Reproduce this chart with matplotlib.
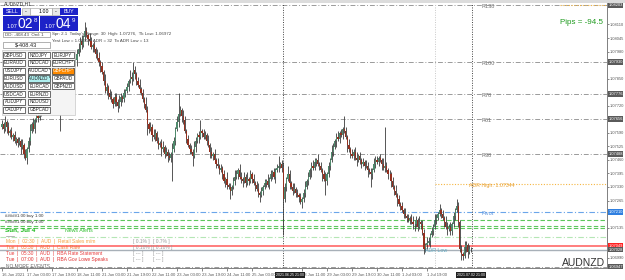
import matplotlib
matplotlib.use('Agg')
import matplotlib.pyplot as plt
from matplotlib.patches import Rectangle
import numpy as np

plt.rcParams['font.family'] = ['Liberation Sans', 'DejaVu Sans']

# AUDNZD H1, 16 Jun 2021 11:00 -> 2 Jul 2021 23:00
# prices kept as pips above 1.07000
base = 1.07
first_open = 62
closes = [
    63, 61, 64, 62, 59, 60, 57, 58, 55, 56,
    54, 55, 52, 53, 49, 47, 51, 55, 60, 63,
    61, 65, 67, 66, 70, 73, 72, 77, 81, 84,
    86, 83, 85, 82, 82, 78, 75, 72, 70, 74,
    77, 76, 80, 84, 86, 89, 92, 94, 97, 99,
    103, 101, 105, 108, 106, 104, 103, 100, 101, 99,
    97, 95, 93, 91, 88, 84, 79, 81, 78, 76,
    75, 73, 76, 74, 72, 74, 76, 75, 78, 79,
    81, 84, 86, 85, 89, 87, 84, 82, 80, 78,
    75, 73, 70, 63, 61, 62, 58, 57, 59, 55,
    53, 54, 51, 52, 49, 50, 48, 47, 49, 51,
    55, 61, 64, 68, 70, 67, 65, 60, 56, 53,
    51, 50, 48, 52, 55, 58, 57, 60, 59, 57,
    58, 55, 53, 50, 48, 49, 46, 44, 43, 41,
    42, 39, 36, 37, 34, 33, 31, 33, 36, 38,
    39, 41, 38, 37, 36, 38, 35, 37, 36, 39,
    37, 35, 34, 32, 30, 29, 31, 33, 35, 36,
    34, 37, 39, 40, 38, 41, 42, 43, 44, 42,
    27, 33, 37, 39, 35, 33, 31, 32, 30, 29,
    28, 26, 27, 30, 33, 36, 38, 41, 43, 42,
    45, 46, 44, 43, 41, 39, 37, 36, 39, 43,
    46, 50, 52, 55, 57, 56, 59, 58, 61, 60,
    57, 53, 51, 49, 48, 50, 47, 46, 48, 46,
    44, 45, 43, 43, 41, 40, 39, 41, 44, 46,
    45, 47, 46, 44, 42, 43, 41, 39, 39, 36,
    33, 31, 29, 27, 25, 24, 22, 20, 19, 18,
    17, 18, 16, 15, 15, 17, 14, 16, 15, 11,
    3, 5, 6, 7, 10, 12, 14, 17, 18, 20,
    22, 20, 18, 16, 14, 13, 14, 12, 15, 19,
    22, 24, 16, 3, 1, 0, 4, 5, 2, 3,
    3]
wick_up = [
    2, 1, 3, 1, 2, 1, 2, 1, 2, 1,
    1, 2, 1, 3, 1, 2, 1, 2, 3, 1,
    3, 1, 2, 1, 2, 1, 3, 2, 1, 2,
    3, 2, 1, 2, 1, 2, 1, 3, 2, 1,
    2, 3, 1, 2, 1, 2, 2, 1, 2, 3,
    2, 3, 1, 4, 2, 1, 3, 2, 1, 2,
    1, 2, 3, 1, 2, 1, 3, 2, 1, 2,
    3, 1, 2, 2, 1, 3, 2, 1, 2, 1,
    2, 1, 3, 2, 4, 2, 1, 2, 3, 1,
    2, 1, 3, 2, 1, 2, 1, 3, 2, 1,
    2, 1, 2, 3, 1, 2, 1, 2, 1, 3,
    2, 1, 3, 10, 2, 1, 3, 2, 1, 2,
    1, 2, 1, 3, 2, 1, 2, 5, 1, 2,
    2, 1, 3, 1, 2, 1, 2, 1, 3, 1,
    2, 1, 2, 1, 3, 1, 2, 1, 2, 3,
    2, 1, 3, 2, 1, 2, 1, 3, 1, 2,
    1, 2, 1, 2, 3, 1, 2, 1, 2, 1,
    3, 1, 2, 1, 2, 1, 2, 5, 1, 2,
    3, 2, 1, 4, 2, 1, 2, 3, 1, 2,
    1, 2, 1, 2, 3, 1, 2, 1, 2, 3,
    2, 1, 3, 1, 2, 1, 2, 3, 1, 2,
    1, 3, 2, 1, 2, 3, 1, 2, 1, 6,
    2, 1, 3, 1, 2, 1, 2, 3, 1, 2,
    1, 2, 1, 3, 2, 1, 2, 1, 3, 2,
    2, 1, 2, 1, 3, 19, 2, 1, 2, 1,
    2, 1, 3, 1, 2, 1, 2, 1, 3, 1,
    2, 1, 2, 3, 1, 2, 1, 3, 1, 2,
    2, 1, 3, 2, 1, 2, 1, 3, 2, 1,
    3, 1, 2, 1, 3, 2, 1, 2, 1, 2,
    1, 3, 2, 1, 2, 1, 3, 2, 1, 2,
    1]
wick_dn = [
    1, 2, 1, 3, 1, 2, 1, 2, 1, 2,
    2, 1, 3, 1, 2, 1, 3, 1, 2, 1,
    1, 2, 1, 2, 1, 3, 1, 2, 2, 1,
    2, 1, 2, 1, 3, 1, 2, 12, 1, 2,
    1, 2, 1, 1, 2, 1, 2, 1, 3, 1,
    1, 2, 1, 2, 1, 3, 2, 1, 2, 1,
    2, 1, 2, 3, 1, 2, 1, 2, 3, 1,
    1, 2, 1, 2, 3, 1, 2, 1, 1, 2,
    1, 2, 1, 3, 1, 2, 2, 1, 2, 1,
    1, 2, 1, 5, 2, 1, 3, 1, 2, 1,
    2, 1, 3, 1, 2, 1, 3, 1, 2, 13,
    1, 2, 1, 2, 1, 3, 2, 1, 2, 1,
    2, 1, 5, 1, 2, 1, 3, 1, 2, 1,
    1, 2, 1, 3, 1, 2, 1, 2, 1, 2,
    1, 2, 1, 3, 2, 1, 4, 2, 1, 2,
    1, 2, 1, 2, 3, 1, 2, 1, 2, 1,
    2, 1, 3, 1, 2, 3, 1, 2, 1, 2,
    1, 2, 1, 2, 1, 3, 1, 2, 1, 2,
    17, 1, 2, 1, 3, 1, 2, 1, 2, 1,
    2, 1, 3, 1, 2, 1, 2, 1, 3, 1,
    1, 2, 1, 2, 1, 3, 1, 7, 2, 1,
    2, 1, 2, 1, 3, 1, 2, 1, 2, 1,
    1, 3, 1, 2, 1, 2, 1, 3, 1, 2,
    2, 1, 2, 1, 3, 1, 6, 2, 1, 2,
    1, 2, 1, 3, 1, 2, 1, 2, 1, 3,
    1, 2, 1, 3, 1, 2, 1, 2, 1, 2,
    1, 2, 1, 2, 3, 1, 2, 1, 2, 1,
    2, 1, 2, 1, 3, 1, 2, 1, 2, 1,
    1, 2, 1, 2, 1, 3, 1, 2, 2, 1,
    2, 1, 2, 1, 3, 2, 1, 2, 3, 1,
    1]

time_ticks = [0, 16, 32, 48, 64, 80, 96, 112, 128, 144, 160, 192, 208, 224, 240, 256, 272]
time_labels = ['16 Jun 2021', '17 Jun 03:00', '17 Jun 19:00', '18 Jun 11:00', '21 Jun 03:00',
               '21 Jun 19:00', '22 Jun 11:00', '23 Jun 03:00', '23 Jun 19:00', '24 Jun 11:00',
               '25 Jun 03:00', '28 Jun 11:00', '29 Jun 03:00', '29 Jun 19:00', '30 Jun 11:00',
               '1 Jul 03:00', '1 Jul 19:00']
price_ticks = [1.08110, 1.08045, 1.07980, 1.07850, 1.07720,
               1.07590, 1.07525, 1.07460, 1.07395, 1.07330, 1.07265,
               1.07135, 1.06990]

fib_names = ['R138', 'R100', 'R78', 'R61', 'R38']
fib_prices = [1.08203, 1.07930, 1.07776, 1.07656, 1.07488]
low_level = 1.06947
adr_high = 1.07344
pivot = 1.07210
green_levels = [1.07171, 1.07145, 1.07135]
light_green = 1.07090
ask = 1.07049
bid = 1.07028

W, H = 625, 280
fig = plt.figure(figsize=(W / 100, H / 100), dpi=100)
fig.patch.set_facecolor('white')


def fx(x):
    return x / W


def fy(y):
    return 1 - y / H


ax = fig.add_axes([0, fy(268), 607 / W, (268 - 3) / H])
ax.set_xlim(-1.28, 387.2)
ax.set_ylim(base - 5.9 / 1e4, base + 121.3 / 1e4)

c = base + np.array(closes) / 1e4
o = base + np.array([first_open] + closes[:-1]) / 1e4
hi = np.maximum(o, c) + np.array(wick_up) / 1e4
lo = np.minimum(o, c) - np.array(wick_dn) / 1e4
idx = np.arange(len(c))
bull = c >= o

ax.vlines(idx, lo, hi, color='#3a3a3a', lw=0.6, zorder=3)
body = np.maximum(np.abs(c - o), 0.00003)
ax.bar(idx, body, bottom=np.minimum(o, c), width=0.8,
       color=np.where(bull, '#4f8a6c', '#94301f'), edgecolor='none', zorder=4)

# level lines
dd = (0, (5, 2, 1, 2))
for nm, p in zip(fib_names, fib_prices):
    ax.axhline(p, color='#9a9a9a', lw=0.7, ls=dd, zorder=1)
    ax.text(307, p - 0.00006, nm, fontsize=4, color='#707070', va='center')
ax.axhline(low_level, color='#9a9a9a', lw=0.7, ls=dd, zorder=1)
ax.axhline(pivot, color='#6aa5ea', lw=0.8, ls=dd, zorder=1)
ax.text(307, pivot - 0.00007, 'Pivot', fontsize=4, color='#5a95e0', va='center')
for p in green_levels:
    ax.axhline(p, color='#5cc85c', lw=0.8, ls=(0, (4, 2)), zorder=1)
ax.axhline(light_green, color='#b5e6b5', lw=0.8, ls=dd, zorder=1)
ax.axhline(ask, color='#ff5a5a', lw=1.1, zorder=2)
ax.axhline(bid, color='#a8b0b8', lw=1.0, zorder=2)
ax.hlines(adr_high, 277, 388, color='#f5b642', lw=0.8, ls=(0, (1, 1.5)), zorder=1)
ax.text(299, adr_high - 0.00006, 'ADR High: 1.07344', fontsize=3.8, color='#e8a030', va='center')
ax.hlines(base + 120.3 / 1e4, 357, 388, color='#f5b642', lw=0.8, ls=(0, (1, 1.5)), zorder=2)
ax.text(271, bid - 0.00004, 'ADR Low', fontsize=3.8, color='#60a8c0', va='center')

ax.axvline(179.8, color='#404040', lw=0.7, ls=(0, (1, 1.5)), zorder=1)
ax.axvline(300.8, color='#404040', lw=0.7, ls=(0, (1, 1.5)), zorder=1)
ax.axvline(277.1, color='#c8c8c8', lw=0.7, ls=(0, (1, 1.5)), zorder=1)

# axes style
for s in ['top', 'left']:
    ax.spines[s].set_visible(False)
ax.spines['right'].set_color('#808080')
ax.spines['bottom'].set_color('#808080')
ax.spines['right'].set_linewidth(0.7)
ax.spines['bottom'].set_linewidth(0.7)
ax.yaxis.tick_right()
ax.set_yticks(price_ticks)
ax.set_yticklabels([f'{p:.5f}' for p in price_ticks])
ax.tick_params(axis='y', labelsize=2.9, colors='#555555', length=1.5, width=0.5, pad=0.8)
ax.set_xticks(time_ticks)
ax.set_xticklabels(time_labels, ha='left')
ax.tick_params(axis='x', labelsize=3.0, colors='#555555', length=2, width=0.5, pad=1.5)

# highlighted price boxes on axis
ytr = ax.get_yaxis_transform()
axis_boxes = [(p, '#5a5a5a') for p in fib_prices + [low_level]]
axis_boxes += [(pivot, '#2f7fe0'), (ask, '#ff2020'), (bid, '#5a5a5a')]
for p, col in axis_boxes:
    ax.text(1.002, p, f'{p:.5f}', transform=ytr, fontsize=2.9, color='white', va='center',
            ha='left', bbox=dict(fc=col, ec='none', pad=0.4), clip_on=False, zorder=6)

# time highlights
for x, t in [(276, '2021.06.25 21:00'), (457, '2021.07.02 21:00')]:
    fig.text(fx(x), fy(275), t, fontsize=2.6, color='white', va='center', ha='left',
             bbox=dict(fc='#202020', ec='none', pad=0.4), zorder=7)


def box(x, y, w, h, fc, ec='none', lw=0.6, z=5):
    fig.add_artist(Rectangle((fx(x), fy(y + h)), w / W, h / H, transform=fig.transFigure,
                             fc=fc, ec=ec, lw=lw, zorder=z))


def txt(x, y, s, size=4, color='black', **kw):
    fig.text(fx(x), fy(y), s, fontsize=size, color=color, va='center', zorder=8, **kw)


box(0, 0, 625, 3, '#dcdcdc', z=6)
txt(4, 4, 'AUDNZD,H1', size=3.5, color='#333333')

# trade panel
box(3, 8, 18, 7, '#1d22c8', z=6)
txt(12, 11.5, 'SELL', size=3.8, color='white', ha='center')
box(22, 8, 8, 7, '#e8e8e8', ec='#999999', lw=0.4, z=6)
txt(26, 11.5, '-', size=4, ha='center')
box(30, 8, 22, 7, 'white', ec='#999999', lw=0.4, z=6)
txt(49, 11.5, '1.00', size=3.8, ha='right')
box(52, 8, 8, 7, '#e8e8e8', ec='#999999', lw=0.4, z=6)
txt(56, 11.5, '-', size=4, ha='center')
box(60, 8, 18, 7, '#1d22c8', z=6)
txt(69, 11.5, 'BUY', size=3.8, color='white', ha='center')
box(3, 16, 36, 15, '#1d22c8', z=6)
box(40, 16, 38, 15, '#1d22c8', z=6)
txt(7, 26, '1.07', size=4, color='white')
txt(18, 23.5, '02', size=10, color='white')
txt(34, 20, '8', size=4.5, color='white')
txt(45, 26, '1.07', size=4, color='white')
txt(56, 23.5, '04', size=10, color='white')
txt(72, 20, '9', size=4.5, color='white')

box(3, 32, 47, 5, 'white', ec='#777777', lw=0.4, z=6)
txt(5, 34.5, 'DD: -408.43  Ord: 1', size=3.2, color='#444444')
txt(52, 34.5, 'Spr: 2.1  Today\'s Range: 30  High: 1.07276,  Tk Low: 1.06972',
    size=3.2, color='#444444')
box(3, 42, 47, 6, 'white', ec='#777777', lw=0.4, z=6)
txt(26.5, 45, '$-408.43', size=4, color='#222222', ha='center')
txt(52, 41.5, 'Yest Low = 1.06917  ADR = 32  To ADR Low = 13', size=3.2, color='#444444')

buttons = [['GBPUSD', 'NZDJPY', 'EURJPY'],
           ['EURAUD', 'NZDCAD', 'EURCHF*'],
           ['USDJPY', 'AUDCAD *', 'GBPCHF*'],
           ['EURUSD', 'AUDNZD *', 'GBPAUD'],
           ['AUDUSD', 'EURCAD', 'GBPNZD'],
           ['USDCAD', 'EURNZD', ''],
           ['AUDJPY', 'NZDUSD', ''],
           ['CADJPY', 'GBPCAD', '']]
box(2, 50, 73, 65, '#f4f4f4', ec='#bbbbbb', lw=0.4, z=5)
col_x = [3, 28, 52]
for r, row in enumerate(buttons):
    y0 = 52 + r * 7.8
    for k, name in enumerate(row):
        if not name:
            continue
        fc, tc = 'white', '#222222'
        if name == 'GBPCHF*':
            fc, tc = '#ff8a00', 'white'
        elif name == 'AUDNZD *':
            fc = '#aeeeee'
        box(col_x[k], y0, 22, 6.2, fc, ec='#333333', lw=0.5, z=6)
        txt(col_x[k] + 11, y0 + 3.1, name, size=3.3, color=tc, ha='center')

# order labels
txt(5, 216, '#####1.00 buy 1.00', size=3.2, color='#333333')
txt(5, 222.5, '#####1.00 buy 1.00', size=3.2, color='#333333')

# news panel
txt(5, 230, 'Sun, Jul 4', size=4.6, color='#18b818', fontweight='bold')
txt(65, 231, 'News Alerts', size=3.8, color='#30c030')
fig.add_artist(plt.Line2D([fx(6), fx(14)], [fy(236), fy(236)], color='#999999', lw=0.5))
events = ['Mon  |  02:30  |  AUD  |  Retail Sales m/m',
          'Tue  |  05:30  |  AUD  |  Cash Rate',
          'Tue  |  05:30  |  AUD  |  RBA Rate Statement',
          'Tue  |  07:00  |  AUD  |  RBA Gov Lowe Speaks']
forecast = ['[ 0.1% ]', '[ 0.10% ]', '[ --- ]', '[ --- ]']
previous = ['[ 0.7% ]', '[ 0.10% ]', '[ --- ]', '[ --- ]']
ev_colors = ['#f5a040', '#f07838', '#e84040', '#e03030']
for k in range(4):
    y = 241 + k * 6
    txt(6, y, events[k], size=3.5, color=ev_colors[k])
    txt(133, y, forecast[k], size=3.5, color='#999999')
    txt(153, y, previous[k], size=3.5, color='#999999')
txt(6, 266, 'NO MORE EVENTS', size=3.5, color='#666666')

txt(560, 22, 'Pips = -94.5', size=5.8, color='#1e9a1e')
txt(562, 263, 'AUDNZD', size=7.5, color='#333333')

fig.savefig('out.png', dpi=100)
